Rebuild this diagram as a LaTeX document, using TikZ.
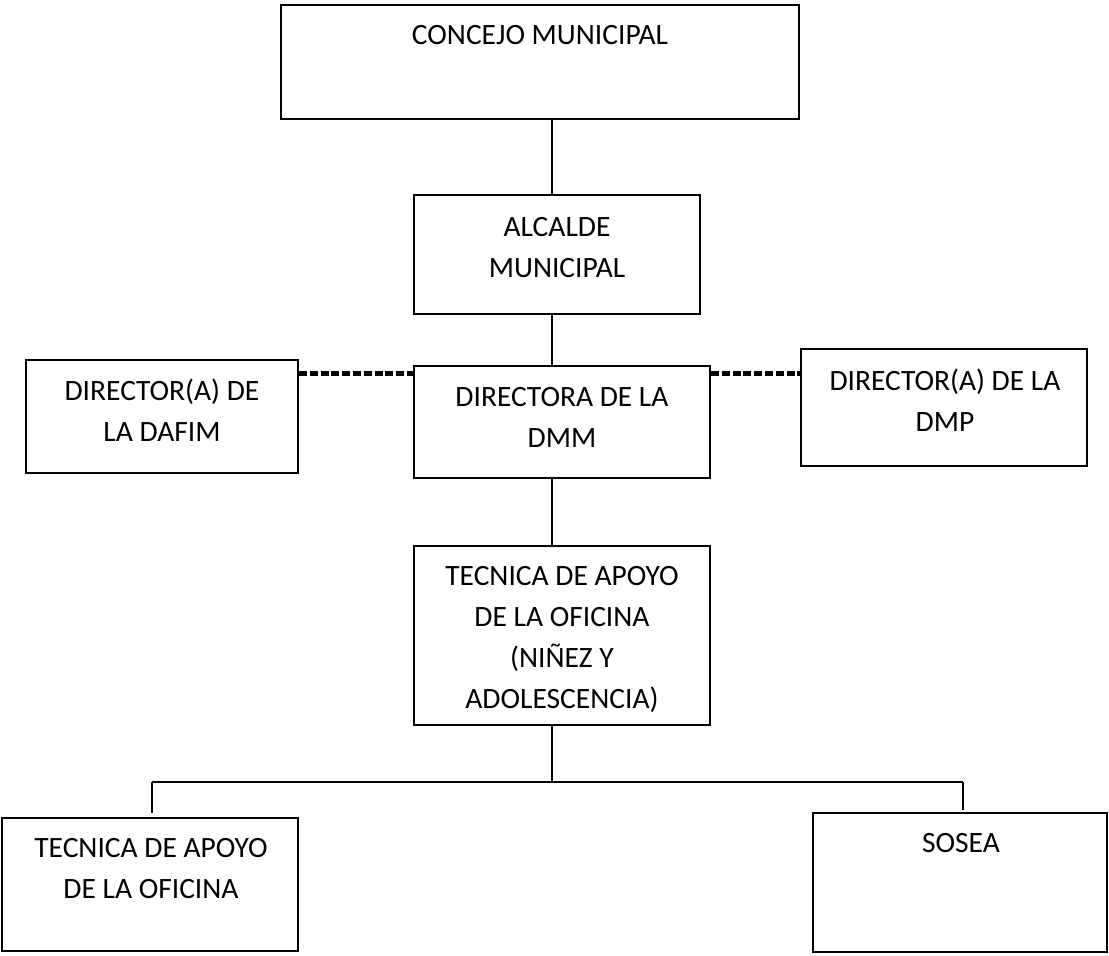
\documentclass[tikz,border=0pt]{standalone}
\usepackage{fontspec}
\setmainfont{Carlito}
\begin{document}
\begin{tikzpicture}[x=1pt,y=-1pt,
  box/.style={draw=black, line width=1.8pt, inner sep=0pt, fill=none},
  lbl/.style={font=\fontsize{29.5}{41}\selectfont, align=center, inner sep=0pt},
  conn/.style={draw=black, line width=1.5pt},
  dashconn/.style={draw=black, line width=5pt, dash pattern=on 8pt off 2.8pt}]
\useasboundingbox (0,0) rectangle (1109,956);
% boxes
\node[box, minimum width=518pt, minimum height=114pt] (concejo) at (540,62) {};
\node[box, minimum width=286pt, minimum height=119pt] (alcalde) at (557,254.5) {};
\node[box, minimum width=296pt, minimum height=112pt] (dmm) at (562,422) {};
\node[box, minimum width=272pt, minimum height=113pt] (dafim) at (162,416.5) {};
\node[box, minimum width=286pt, minimum height=117pt] (dmp) at (944,407.5) {};
\node[box, minimum width=296pt, minimum height=179pt] (tec) at (562,635.5) {};
\node[box, minimum width=296pt, minimum height=133pt] (tec2) at (150,884.5) {};
\node[box, minimum width=294pt, minimum height=139pt] (sosea) at (960,882.5) {};
% texts
\node[lbl] (concejo-t) at (540,35) {CONCEJO MUNICIPAL};
\node[lbl] (alcalde-t) at (557,248) {ALCALDE\\MUNICIPAL};
\node[lbl] (dmm-t) at (562,417) {DIRECTORA DE LA\\DMM};
\node[lbl] (dafim-t) at (162,410) {DIRECTOR(A) DE\\LA DAFIM};
\node[lbl] (dmp-t) at (945,400) {DIRECTOR(A) DE LA\\DMP};
\node[lbl] (tec-t) at (562,639.5) {TECNICA DE APOYO\\DE LA OFICINA\\(NIÑEZ Y\\ADOLESCENCIA)};
\node[lbl] (tec2-t) at (151,869) {TECNICA DE APOYO\\DE LA OFICINA};
\node[lbl] (sosea-t) at (961,843) {SOSEA};
% helper coordinates
\coordinate (spine) at (552,0);
\coordinate (dashy) at (0,373);
\coordinate (j) at (552,782);
\coordinate (jl) at (152,782);
\coordinate (jr) at (963,782);
\coordinate (jl-end) at (152,813);
\coordinate (jr-end) at (963,810);
% connectors
\draw[conn] (concejo.south -| spine) -- (alcalde.north -| spine);
\draw[conn] (alcalde.south -| spine) -- (dmm.north -| spine);
\draw[conn] (dmm.south -| spine) -- (tec.north -| spine);
\draw[conn] (tec.south -| spine) -- (j);
\draw[conn] (jl) -- (jr);
\draw[conn] (jl) -- (jl-end);
\draw[conn] (jr) -- (jr-end);
\draw[dashconn] (dafim.east |- dashy) -- (dmm.west |- dashy);
\draw[dashconn] (dmm.east |- dashy) -- (dmp.west |- dashy);
\end{tikzpicture}
\end{document}
